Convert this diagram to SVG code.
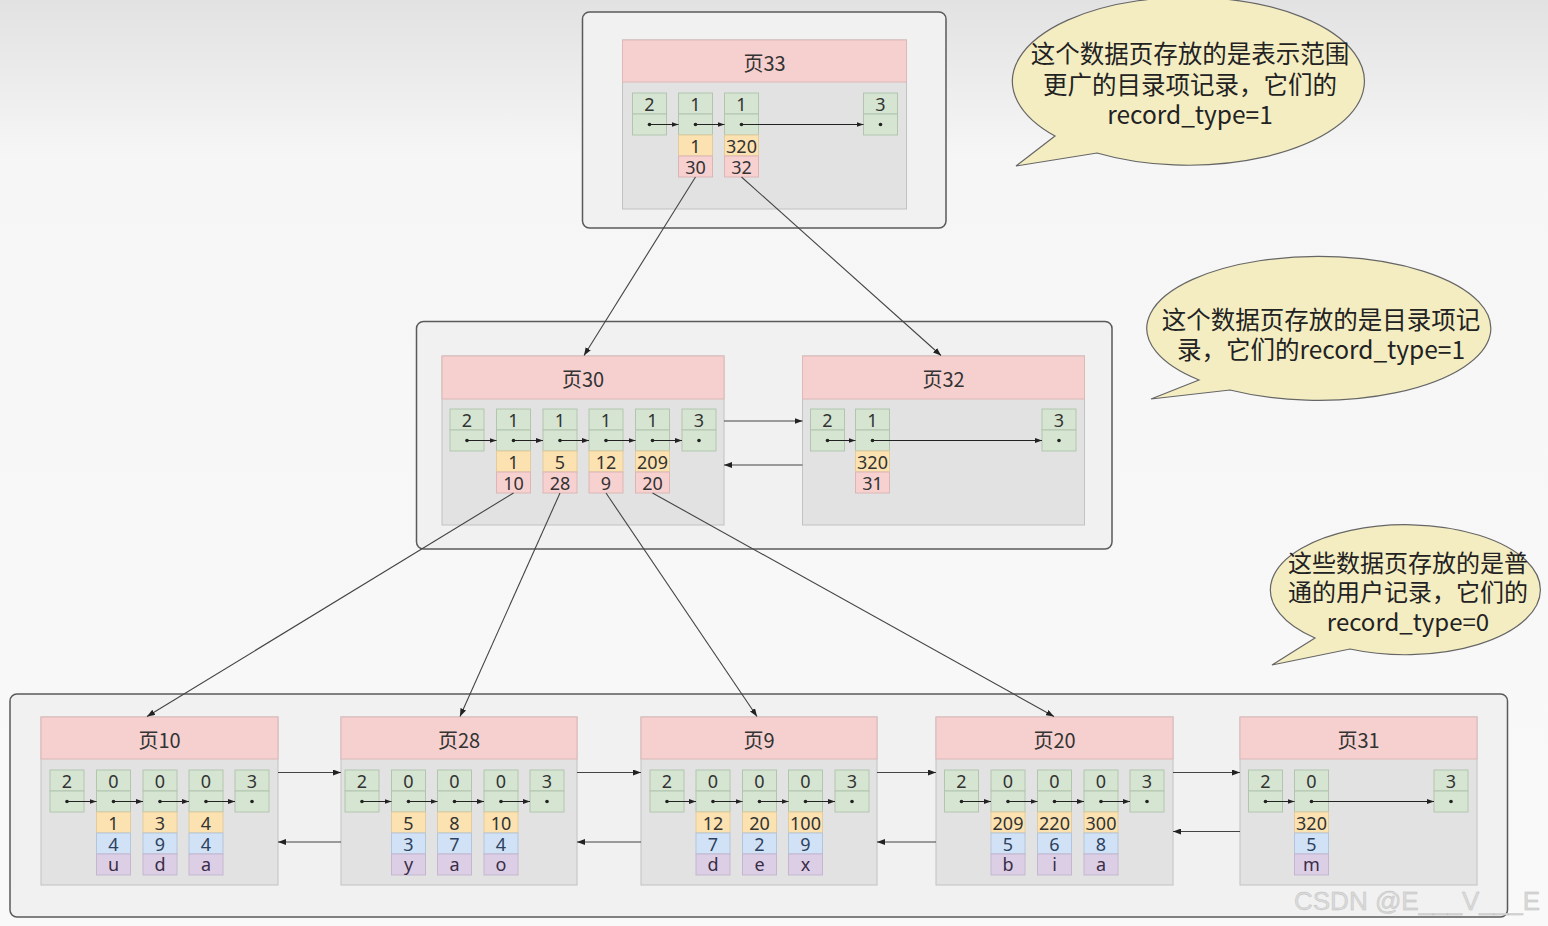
<svg xmlns="http://www.w3.org/2000/svg" width="1548" height="926" viewBox="0 0 1548 926">
<defs>
<linearGradient id="bg" x1="0" y1="0" x2="0" y2="1">
<stop offset="0" stop-color="#e2e2e2"/>
<stop offset="0.17" stop-color="#f6f6f6"/>
<stop offset="1" stop-color="#f9f9f9"/>
</linearGradient>
<marker id="ah" viewBox="0 0 8 6" refX="8" refY="3" markerWidth="8" markerHeight="6" markerUnits="userSpaceOnUse" orient="auto">
<path d="M0,0 L8,3 L0,6 z" fill="#222"/>
</marker>
<marker id="as" viewBox="0 0 7 5" refX="7" refY="2.5" markerWidth="7" markerHeight="5" markerUnits="userSpaceOnUse" orient="auto">
<path d="M0,0 L7,2.5 L0,5 z" fill="#222"/>
</marker>
</defs>
<style>
.ct{fill:#f1f1f1;stroke:#5a5a5a;stroke-width:1.5}
.pb{fill:#e2e2e2;stroke:#c2c2c2;stroke-width:1}
.ph{fill:#f6d0cf;stroke:#dcb8b7;stroke-width:1}
.g{fill:#d5e5d2;stroke:#b2c5ae;stroke-width:1}
.y{fill:#fbe2b0;stroke:#e2cb9e;stroke-width:1}
.p{fill:#f7d1d0;stroke:#dbb6b5;stroke-width:1}
.b{fill:#d2e2f6;stroke:#b3c5da;stroke-width:1}
.v{fill:#dccfe5;stroke:#c4b6cf;stroke-width:1}
.ht{font-family:"Noto Sans CJK SC","Noto Sans",sans-serif;font-size:20px;fill:#333;text-anchor:middle;dominant-baseline:central}
.t{font-family:"Noto Sans","Noto Sans CJK SC",sans-serif;font-size:18px;fill:#333;text-anchor:middle;dominant-baseline:central}
.tb{fill:#2c4260}
.tv{fill:#3a2d48}
.dot{fill:#222}
.il{stroke:#222;stroke-width:1;fill:none;marker-end:url(#as)}
.cl{stroke:#444;stroke-width:1.1;fill:none;marker-end:url(#ah)}
.bub{fill:#f4edc2;stroke:#666;stroke-width:1.2}
.bt{font-family:"Noto Sans CJK SC",sans-serif;font-size:24.5px;fill:#222;text-anchor:middle;dominant-baseline:central}
.wm{font-family:"Liberation Sans",Arial,sans-serif;font-size:26px;fill:#dadada;stroke:#bdbdbd;stroke-width:0.4}
</style>
<rect x="0" y="0" width="1548" height="926" fill="url(#bg)"/>

<g id="containers">
<rect class="ct" x="582.5" y="12" width="363.5" height="216" rx="7"/>
<rect class="ct" x="416.5" y="321.5" width="695.5" height="227.5" rx="7"/>
<rect class="ct" x="10" y="694" width="1497.5" height="223" rx="7"/>
</g>

<g id="page33" transform="translate(622.5,40)">
<rect class="pb" x="0" y="0" width="284" height="169"/>
<rect class="ph" x="0" y="0" width="284" height="42"/>
<text class="ht" x="142" y="22">页33</text>
<rect class="g" x="10" y="53" width="34" height="21"/><rect class="g" x="10" y="74" width="34" height="21"/>
<text class="t" x="27" y="63.5">2</text><circle class="dot" cx="27" cy="84.5" r="1.8"/>
<rect class="g" x="56" y="53" width="34" height="21"/><rect class="g" x="56" y="74" width="34" height="21"/>
<text class="t" x="73" y="63.5">1</text><circle class="dot" cx="73" cy="84.5" r="1.8"/>
<rect class="y" x="56" y="95" width="34" height="21"/><text class="t" x="73" y="105.5">1</text>
<rect class="p" x="56" y="116" width="34" height="21"/><text class="t" x="73" y="126.5">30</text>
<rect class="g" x="102" y="53" width="34" height="21"/><rect class="g" x="102" y="74" width="34" height="21"/>
<text class="t" x="119" y="63.5">1</text><circle class="dot" cx="119" cy="84.5" r="1.8"/>
<rect class="y" x="102" y="95" width="34" height="21"/><text class="t" x="119" y="105.5">320</text>
<rect class="p" x="102" y="116" width="34" height="21"/><text class="t" x="119" y="126.5">32</text>
<rect class="g" x="241" y="53" width="34" height="21"/><rect class="g" x="241" y="74" width="34" height="21"/>
<text class="t" x="258" y="63.5">3</text><circle class="dot" cx="258" cy="84.5" r="1.8"/>
<line class="il" x1="27" y1="84.5" x2="56" y2="84.5"/>
<line class="il" x1="73" y1="84.5" x2="102" y2="84.5"/>
<line class="il" x1="119" y1="84.5" x2="241" y2="84.5"/>
</g>

<g id="page30" transform="translate(442,356)">
<rect class="pb" x="0" y="0" width="282" height="169"/>
<rect class="ph" x="0" y="0" width="282" height="43"/>
<text class="ht" x="141" y="22">页30</text>
<rect class="g" x="8" y="53" width="34" height="21"/><rect class="g" x="8" y="74" width="34" height="21"/>
<text class="t" x="25" y="63.5">2</text><circle class="dot" cx="25" cy="84.5" r="1.8"/>
<rect class="g" x="54.5" y="53" width="34" height="21"/><rect class="g" x="54.5" y="74" width="34" height="21"/>
<text class="t" x="71.5" y="63.5">1</text><circle class="dot" cx="71.5" cy="84.5" r="1.8"/>
<rect class="y" x="54.5" y="95" width="34" height="21"/><text class="t" x="71.5" y="105.5">1</text>
<rect class="p" x="54.5" y="116" width="34" height="21"/><text class="t" x="71.5" y="126.5">10</text>
<rect class="g" x="101" y="53" width="34" height="21"/><rect class="g" x="101" y="74" width="34" height="21"/>
<text class="t" x="118" y="63.5">1</text><circle class="dot" cx="118" cy="84.5" r="1.8"/>
<rect class="y" x="101" y="95" width="34" height="21"/><text class="t" x="118" y="105.5">5</text>
<rect class="p" x="101" y="116" width="34" height="21"/><text class="t" x="118" y="126.5">28</text>
<rect class="g" x="147" y="53" width="34" height="21"/><rect class="g" x="147" y="74" width="34" height="21"/>
<text class="t" x="164" y="63.5">1</text><circle class="dot" cx="164" cy="84.5" r="1.8"/>
<rect class="y" x="147" y="95" width="34" height="21"/><text class="t" x="164" y="105.5">12</text>
<rect class="p" x="147" y="116" width="34" height="21"/><text class="t" x="164" y="126.5">9</text>
<rect class="g" x="193.5" y="53" width="34" height="21"/><rect class="g" x="193.5" y="74" width="34" height="21"/>
<text class="t" x="210.5" y="63.5">1</text><circle class="dot" cx="210.5" cy="84.5" r="1.8"/>
<rect class="y" x="193.5" y="95" width="34" height="21"/><text class="t" x="210.5" y="105.5">209</text>
<rect class="p" x="193.5" y="116" width="34" height="21"/><text class="t" x="210.5" y="126.5">20</text>
<rect class="g" x="240" y="53" width="34" height="21"/><rect class="g" x="240" y="74" width="34" height="21"/>
<text class="t" x="257" y="63.5">3</text><circle class="dot" cx="257" cy="84.5" r="1.8"/>
<line class="il" x1="25" y1="84.5" x2="54.5" y2="84.5"/>
<line class="il" x1="71.5" y1="84.5" x2="101" y2="84.5"/>
<line class="il" x1="118" y1="84.5" x2="147" y2="84.5"/>
<line class="il" x1="164" y1="84.5" x2="193.5" y2="84.5"/>
<line class="il" x1="210.5" y1="84.5" x2="240" y2="84.5"/>
</g>

<g id="page32" transform="translate(802.5,356)">
<rect class="pb" x="0" y="0" width="282" height="169"/>
<rect class="ph" x="0" y="0" width="282" height="43"/>
<text class="ht" x="141" y="22">页32</text>
<rect class="g" x="8" y="53" width="34" height="21"/><rect class="g" x="8" y="74" width="34" height="21"/>
<text class="t" x="25" y="63.5">2</text><circle class="dot" cx="25" cy="84.5" r="1.8"/>
<rect class="g" x="53" y="53" width="34" height="21"/><rect class="g" x="53" y="74" width="34" height="21"/>
<text class="t" x="70" y="63.5">1</text><circle class="dot" cx="70" cy="84.5" r="1.8"/>
<rect class="y" x="53" y="95" width="34" height="21"/><text class="t" x="70" y="105.5">320</text>
<rect class="p" x="53" y="116" width="34" height="21"/><text class="t" x="70" y="126.5">31</text>
<rect class="g" x="239.5" y="53" width="34" height="21"/><rect class="g" x="239.5" y="74" width="34" height="21"/>
<text class="t" x="256.5" y="63.5">3</text><circle class="dot" cx="256.5" cy="84.5" r="1.8"/>
<line class="il" x1="25" y1="84.5" x2="53" y2="84.5"/>
<line class="il" x1="70" y1="84.5" x2="239.5" y2="84.5"/>
</g>

<g id="page10" transform="translate(41,717)">
<rect class="pb" x="0" y="0" width="237" height="168"/>
<rect class="ph" x="0" y="0" width="237" height="42"/>
<text class="ht" x="118.5" y="22">页10</text>
<rect class="g" x="9" y="53" width="34" height="21"/><rect class="g" x="9" y="74" width="34" height="21"/>
<text class="t" x="26" y="63.5">2</text><circle class="dot" cx="26" cy="84.5" r="1.8"/>
<rect class="g" x="55.5" y="53" width="34" height="21"/><rect class="g" x="55.5" y="74" width="34" height="21"/>
<text class="t" x="72.5" y="63.5">0</text><circle class="dot" cx="72.5" cy="84.5" r="1.8"/>
<rect class="y" x="55.5" y="95" width="34" height="21"/><text class="t" x="72.5" y="105.5">1</text>
<rect class="b" x="55.5" y="116" width="34" height="21"/><text class="t tb" x="72.5" y="126.5">4</text>
<rect class="v" x="55.5" y="137" width="34" height="21"/><text class="t tv" x="72.5" y="147">u</text>
<rect class="g" x="102" y="53" width="34" height="21"/><rect class="g" x="102" y="74" width="34" height="21"/>
<text class="t" x="119" y="63.5">0</text><circle class="dot" cx="119" cy="84.5" r="1.8"/>
<rect class="y" x="102" y="95" width="34" height="21"/><text class="t" x="119" y="105.5">3</text>
<rect class="b" x="102" y="116" width="34" height="21"/><text class="t tb" x="119" y="126.5">9</text>
<rect class="v" x="102" y="137" width="34" height="21"/><text class="t tv" x="119" y="147">d</text>
<rect class="g" x="148" y="53" width="34" height="21"/><rect class="g" x="148" y="74" width="34" height="21"/>
<text class="t" x="165" y="63.5">0</text><circle class="dot" cx="165" cy="84.5" r="1.8"/>
<rect class="y" x="148" y="95" width="34" height="21"/><text class="t" x="165" y="105.5">4</text>
<rect class="b" x="148" y="116" width="34" height="21"/><text class="t tb" x="165" y="126.5">4</text>
<rect class="v" x="148" y="137" width="34" height="21"/><text class="t tv" x="165" y="147">a</text>
<rect class="g" x="194" y="53" width="34" height="21"/><rect class="g" x="194" y="74" width="34" height="21"/>
<text class="t" x="211" y="63.5">3</text><circle class="dot" cx="211" cy="84.5" r="1.8"/>
<line class="il" x1="26" y1="84.5" x2="55.5" y2="84.5"/>
<line class="il" x1="72.5" y1="84.5" x2="102" y2="84.5"/>
<line class="il" x1="119" y1="84.5" x2="148" y2="84.5"/>
<line class="il" x1="165" y1="84.5" x2="194" y2="84.5"/>
</g>

<g id="page28" transform="translate(341,717)">
<rect class="pb" x="0" y="0" width="236" height="168"/>
<rect class="ph" x="0" y="0" width="236" height="42"/>
<text class="ht" x="118" y="22">页28</text>
<rect class="g" x="4" y="53" width="34" height="21"/><rect class="g" x="4" y="74" width="34" height="21"/>
<text class="t" x="21" y="63.5">2</text><circle class="dot" cx="21" cy="84.5" r="1.8"/>
<rect class="g" x="50.5" y="53" width="34" height="21"/><rect class="g" x="50.5" y="74" width="34" height="21"/>
<text class="t" x="67.5" y="63.5">0</text><circle class="dot" cx="67.5" cy="84.5" r="1.8"/>
<rect class="y" x="50.5" y="95" width="34" height="21"/><text class="t" x="67.5" y="105.5">5</text>
<rect class="b" x="50.5" y="116" width="34" height="21"/><text class="t tb" x="67.5" y="126.5">3</text>
<rect class="v" x="50.5" y="137" width="34" height="21"/><text class="t tv" x="67.5" y="147">y</text>
<rect class="g" x="96.5" y="53" width="34" height="21"/><rect class="g" x="96.5" y="74" width="34" height="21"/>
<text class="t" x="113.5" y="63.5">0</text><circle class="dot" cx="113.5" cy="84.5" r="1.8"/>
<rect class="y" x="96.5" y="95" width="34" height="21"/><text class="t" x="113.5" y="105.5">8</text>
<rect class="b" x="96.5" y="116" width="34" height="21"/><text class="t tb" x="113.5" y="126.5">7</text>
<rect class="v" x="96.5" y="137" width="34" height="21"/><text class="t tv" x="113.5" y="147">a</text>
<rect class="g" x="143" y="53" width="34" height="21"/><rect class="g" x="143" y="74" width="34" height="21"/>
<text class="t" x="160" y="63.5">0</text><circle class="dot" cx="160" cy="84.5" r="1.8"/>
<rect class="y" x="143" y="95" width="34" height="21"/><text class="t" x="160" y="105.5">10</text>
<rect class="b" x="143" y="116" width="34" height="21"/><text class="t tb" x="160" y="126.5">4</text>
<rect class="v" x="143" y="137" width="34" height="21"/><text class="t tv" x="160" y="147">o</text>
<rect class="g" x="189" y="53" width="34" height="21"/><rect class="g" x="189" y="74" width="34" height="21"/>
<text class="t" x="206" y="63.5">3</text><circle class="dot" cx="206" cy="84.5" r="1.8"/>
<line class="il" x1="21" y1="84.5" x2="50.5" y2="84.5"/>
<line class="il" x1="67.5" y1="84.5" x2="96.5" y2="84.5"/>
<line class="il" x1="113.5" y1="84.5" x2="143" y2="84.5"/>
<line class="il" x1="160" y1="84.5" x2="189" y2="84.5"/>
</g>

<g id="page9" transform="translate(641,717)">
<rect class="pb" x="0" y="0" width="236" height="168"/>
<rect class="ph" x="0" y="0" width="236" height="42"/>
<text class="ht" x="118" y="22">页9</text>
<rect class="g" x="9" y="53" width="34" height="21"/><rect class="g" x="9" y="74" width="34" height="21"/>
<text class="t" x="26" y="63.5">2</text><circle class="dot" cx="26" cy="84.5" r="1.8"/>
<rect class="g" x="55" y="53" width="34" height="21"/><rect class="g" x="55" y="74" width="34" height="21"/>
<text class="t" x="72" y="63.5">0</text><circle class="dot" cx="72" cy="84.5" r="1.8"/>
<rect class="y" x="55" y="95" width="34" height="21"/><text class="t" x="72" y="105.5">12</text>
<rect class="b" x="55" y="116" width="34" height="21"/><text class="t tb" x="72" y="126.5">7</text>
<rect class="v" x="55" y="137" width="34" height="21"/><text class="t tv" x="72" y="147">d</text>
<rect class="g" x="101.5" y="53" width="34" height="21"/><rect class="g" x="101.5" y="74" width="34" height="21"/>
<text class="t" x="118.5" y="63.5">0</text><circle class="dot" cx="118.5" cy="84.5" r="1.8"/>
<rect class="y" x="101.5" y="95" width="34" height="21"/><text class="t" x="118.5" y="105.5">20</text>
<rect class="b" x="101.5" y="116" width="34" height="21"/><text class="t tb" x="118.5" y="126.5">2</text>
<rect class="v" x="101.5" y="137" width="34" height="21"/><text class="t tv" x="118.5" y="147">e</text>
<rect class="g" x="147.5" y="53" width="34" height="21"/><rect class="g" x="147.5" y="74" width="34" height="21"/>
<text class="t" x="164.5" y="63.5">0</text><circle class="dot" cx="164.5" cy="84.5" r="1.8"/>
<rect class="y" x="147.5" y="95" width="34" height="21"/><text class="t" x="164.5" y="105.5">100</text>
<rect class="b" x="147.5" y="116" width="34" height="21"/><text class="t tb" x="164.5" y="126.5">9</text>
<rect class="v" x="147.5" y="137" width="34" height="21"/><text class="t tv" x="164.5" y="147">x</text>
<rect class="g" x="194" y="53" width="34" height="21"/><rect class="g" x="194" y="74" width="34" height="21"/>
<text class="t" x="211" y="63.5">3</text><circle class="dot" cx="211" cy="84.5" r="1.8"/>
<line class="il" x1="26" y1="84.5" x2="55" y2="84.5"/>
<line class="il" x1="72" y1="84.5" x2="101.5" y2="84.5"/>
<line class="il" x1="118.5" y1="84.5" x2="147.5" y2="84.5"/>
<line class="il" x1="164.5" y1="84.5" x2="194" y2="84.5"/>
</g>

<g id="page20" transform="translate(936,717)">
<rect class="pb" x="0" y="0" width="237" height="168"/>
<rect class="ph" x="0" y="0" width="237" height="42"/>
<text class="ht" x="118.5" y="22">页20</text>
<rect class="g" x="8.5" y="53" width="34" height="21"/><rect class="g" x="8.5" y="74" width="34" height="21"/>
<text class="t" x="25.5" y="63.5">2</text><circle class="dot" cx="25.5" cy="84.5" r="1.8"/>
<rect class="g" x="55" y="53" width="34" height="21"/><rect class="g" x="55" y="74" width="34" height="21"/>
<text class="t" x="72" y="63.5">0</text><circle class="dot" cx="72" cy="84.5" r="1.8"/>
<rect class="y" x="55" y="95" width="34" height="21"/><text class="t" x="72" y="105.5">209</text>
<rect class="b" x="55" y="116" width="34" height="21"/><text class="t tb" x="72" y="126.5">5</text>
<rect class="v" x="55" y="137" width="34" height="21"/><text class="t tv" x="72" y="147">b</text>
<rect class="g" x="101.5" y="53" width="34" height="21"/><rect class="g" x="101.5" y="74" width="34" height="21"/>
<text class="t" x="118.5" y="63.5">0</text><circle class="dot" cx="118.5" cy="84.5" r="1.8"/>
<rect class="y" x="101.5" y="95" width="34" height="21"/><text class="t" x="118.5" y="105.5">220</text>
<rect class="b" x="101.5" y="116" width="34" height="21"/><text class="t tb" x="118.5" y="126.5">6</text>
<rect class="v" x="101.5" y="137" width="34" height="21"/><text class="t tv" x="118.5" y="147">i</text>
<rect class="g" x="148" y="53" width="34" height="21"/><rect class="g" x="148" y="74" width="34" height="21"/>
<text class="t" x="165" y="63.5">0</text><circle class="dot" cx="165" cy="84.5" r="1.8"/>
<rect class="y" x="148" y="95" width="34" height="21"/><text class="t" x="165" y="105.5">300</text>
<rect class="b" x="148" y="116" width="34" height="21"/><text class="t tb" x="165" y="126.5">8</text>
<rect class="v" x="148" y="137" width="34" height="21"/><text class="t tv" x="165" y="147">a</text>
<rect class="g" x="194" y="53" width="34" height="21"/><rect class="g" x="194" y="74" width="34" height="21"/>
<text class="t" x="211" y="63.5">3</text><circle class="dot" cx="211" cy="84.5" r="1.8"/>
<line class="il" x1="25.5" y1="84.5" x2="55" y2="84.5"/>
<line class="il" x1="72" y1="84.5" x2="101.5" y2="84.5"/>
<line class="il" x1="118.5" y1="84.5" x2="148" y2="84.5"/>
<line class="il" x1="165" y1="84.5" x2="194" y2="84.5"/>
</g>

<g id="page31" transform="translate(1240,717)">
<rect class="pb" x="0" y="0" width="237" height="168"/>
<rect class="ph" x="0" y="0" width="237" height="42"/>
<text class="ht" x="118.5" y="22">页31</text>
<rect class="g" x="8.5" y="53" width="34" height="21"/><rect class="g" x="8.5" y="74" width="34" height="21"/>
<text class="t" x="25.5" y="63.5">2</text><circle class="dot" cx="25.5" cy="84.5" r="1.8"/>
<rect class="g" x="54.5" y="53" width="34" height="21"/><rect class="g" x="54.5" y="74" width="34" height="21"/>
<text class="t" x="71.5" y="63.5">0</text><circle class="dot" cx="71.5" cy="84.5" r="1.8"/>
<rect class="y" x="54.5" y="95" width="34" height="21"/><text class="t" x="71.5" y="105.5">320</text>
<rect class="b" x="54.5" y="116" width="34" height="21"/><text class="t tb" x="71.5" y="126.5">5</text>
<rect class="v" x="54.5" y="137" width="34" height="21"/><text class="t tv" x="71.5" y="147">m</text>
<rect class="g" x="194" y="53" width="34" height="21"/><rect class="g" x="194" y="74" width="34" height="21"/>
<text class="t" x="211" y="63.5">3</text><circle class="dot" cx="211" cy="84.5" r="1.8"/>
<line class="il" x1="25.5" y1="84.5" x2="54.5" y2="84.5"/>
<line class="il" x1="71.5" y1="84.5" x2="194" y2="84.5"/>
</g>

<g id="connectors">
<line class="cl" x1="695.5" y1="177" x2="584" y2="355.5"/>
<line class="cl" x1="741.5" y1="177" x2="941" y2="355.5"/>
<line class="cl" x1="513.5" y1="493" x2="147" y2="716.5"/>
<line class="cl" x1="560" y1="493" x2="460" y2="716.5"/>
<line class="cl" x1="606" y1="493" x2="757" y2="716.5"/>
<line class="cl" x1="652.5" y1="493" x2="1054" y2="716.5"/>
<line class="cl" x1="724" y1="421" x2="802.5" y2="421"/>
<line class="cl" x1="802.5" y1="465" x2="724" y2="465"/>
<line class="cl" x1="278" y1="772.5" x2="341" y2="772.5"/>
<line class="cl" x1="341" y1="842" x2="278" y2="842"/>
<line class="cl" x1="577" y1="772.5" x2="641" y2="772.5"/>
<line class="cl" x1="641" y1="842" x2="577" y2="842"/>
<line class="cl" x1="877" y1="772.5" x2="936" y2="772.5"/>
<line class="cl" x1="936" y1="842" x2="877" y2="842"/>
<line class="cl" x1="1173" y1="772.5" x2="1240" y2="772.5"/>
<line class="cl" x1="1240" y1="831.5" x2="1173" y2="831.5"/>
</g>

<g id="bubble1">
<path class="bub" d="M1055,136 L1016,166 L1097,153 A176,84 0 1 0 1055,136 Z"/>
<text class="bt"><tspan x="1190" y="52">这个数据页存放的是表示范围</tspan><tspan x="1190" y="83">更广的目录项记录，它们的</tspan><tspan x="1190" y="113">record_type=1</tspan></text>
</g>
<g id="bubble2">
<path class="bub" d="M1199,380 L1151,399 L1230,390 A172,72 0 1 0 1199,380 Z"/>
<text class="bt"><tspan x="1321" y="318">这个数据页存放的是目录项记</tspan><tspan x="1321" y="348">录，它们的record_type=1</tspan></text>
</g>
<g id="bubble3">
<path class="bub" d="M1315,638 L1272,665 L1350,649 A135,65 0 1 0 1315,638 Z"/>
<text class="bt" font-size="24" style="font-size:24px"><tspan x="1408" y="561">这些数据页存放的是普</tspan><tspan x="1408" y="590">通的用户记录，它们的</tspan><tspan x="1408" y="620">record_type=0</tspan></text>
</g>

<text class="wm" x="1294" y="910">CSDN @E___V___E</text>
</svg>
